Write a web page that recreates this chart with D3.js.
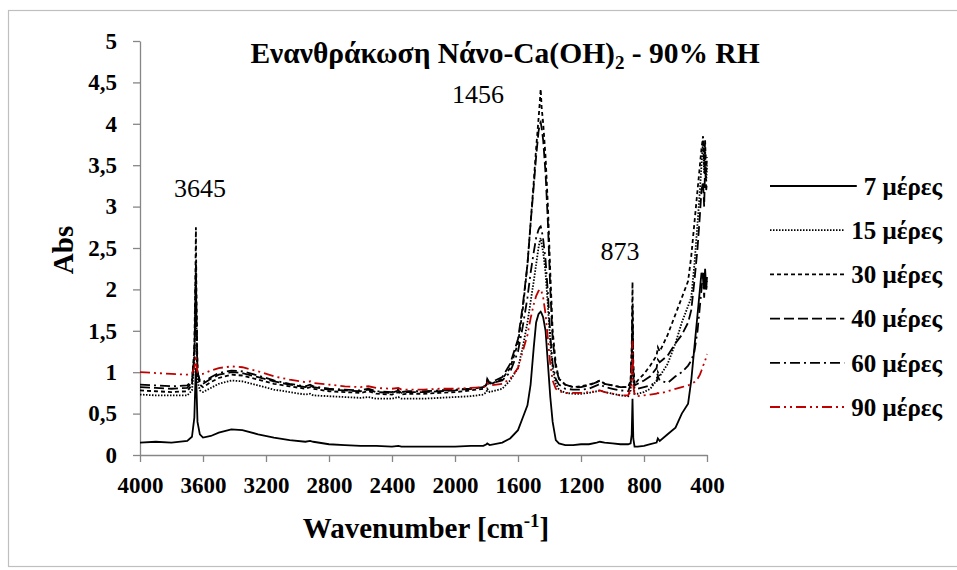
<!DOCTYPE html>
<html>
<head>
<meta charset="utf-8">
<script src="https://cdn.jsdelivr.net/npm/d3@7"></script>
<style>
  body { margin: 0; background: #fff; }
  svg text { font-family: "Liberation Serif", "Times New Roman", serif; fill: #000; }
</style>
</head>
<body>
<div id="chart"></div>
<script>
// Wavenumber grid (cm-1) shared by all spectra
const wavenumbers = [4000, 3900, 3800, 3700, 3670, 3655, 3648, 3645, 3642, 3635, 3620, 3600,
  3550, 3500, 3420, 3350, 3250, 3150, 3050, 2950, 2920, 2900, 2800, 2700,
  2600, 2550, 2500, 2400, 2360, 2340, 2300, 2200, 2100, 2000, 1900, 1820,
  1800, 1795, 1780, 1700, 1650, 1600, 1570, 1540, 1520, 1500, 1485, 1470,
  1462, 1456, 1450, 1440, 1425, 1410, 1395, 1380, 1360, 1340, 1300, 1250,
  1200, 1150, 1100, 1080, 1050, 1000, 950, 900, 885, 878, 873, 868,
  860, 840, 800, 760, 720, 712, 700, 650, 600, 560, 520, 500,
  480, 460, 445, 435, 425, 418, 412, 405, 400];

// Absorbance, one array per series
const abs7 = [0.15, 0.16, 0.15, 0.17, 0.22, 0.45, 0.9, 1.05, 0.85, 0.4, 0.25, 0.21,
  0.23, 0.27, 0.31, 0.3, 0.25, 0.21, 0.18, 0.16, 0.17, 0.16, 0.13, 0.12,
  0.11, 0.11, 0.11, 0.1, 0.11, 0.1, 0.1, 0.1, 0.1, 0.1, 0.11, 0.11,
  0.13, 0.14, 0.12, 0.15, 0.2, 0.3, 0.45, 0.6, 0.85, 1.3, 1.6, 1.7,
  1.72, 1.73, 1.71, 1.66, 1.5, 1.1, 0.7, 0.4, 0.18, 0.14, 0.12, 0.12,
  0.13, 0.13, 0.15, 0.16, 0.15, 0.14, 0.13, 0.13, 0.14, 0.25, 0.68, 0.2,
  0.1, 0.1, 0.11, 0.13, 0.15, 0.2, 0.17, 0.25, 0.33, 0.5, 0.62, 0.9,
  1.3, 1.7, 2.0, 2.2, 2.15, 2.0, 2.25, 2.0, 2.15];
const abs15 = [0.73, 0.72, 0.72, 0.72, 0.78, 1.1, 1.8, 2.3, 1.6, 0.9, 0.78, 0.76,
  0.81, 0.86, 0.9, 0.89, 0.84, 0.79, 0.76, 0.73, 0.74, 0.72, 0.71, 0.7,
  0.69, 0.7, 0.68, 0.68, 0.7, 0.68, 0.68, 0.68, 0.69, 0.7, 0.71, 0.73,
  0.76, 0.8, 0.76, 0.8, 0.9, 1.05, 1.3, 1.6, 1.85, 2.1, 2.3, 2.5,
  2.58, 2.62, 2.55, 2.45, 2.2, 1.8, 1.35, 1.05, 0.86, 0.79, 0.75, 0.74,
  0.74, 0.75, 0.77, 0.78, 0.76, 0.74, 0.72, 0.71, 0.78, 1.1, 1.5, 0.9,
  0.74, 0.74, 0.76, 0.8, 0.9, 1.0, 0.95, 1.1, 1.35, 1.6, 1.8, 1.9,
  2.3, 2.8, 3.2, 3.5, 3.8, 3.4, 3.7, 3.3, 3.5];
const abs30 = [0.78, 0.77, 0.76, 0.77, 0.85, 1.3, 2.2, 2.75, 2.0, 1.0, 0.85, 0.82,
  0.88, 0.93, 0.97, 0.96, 0.91, 0.86, 0.83, 0.8, 0.82, 0.8, 0.77, 0.76,
  0.75, 0.77, 0.74, 0.73, 0.76, 0.73, 0.74, 0.74, 0.75, 0.76, 0.78, 0.8,
  0.85, 0.9, 0.85, 0.92, 1.05, 1.35, 1.75, 2.3, 2.8, 3.3, 3.7, 4.05,
  4.25, 4.42, 4.2, 4.0, 3.6, 3.0, 2.2, 1.5, 1.1, 0.92, 0.85, 0.82,
  0.83, 0.85, 0.88, 0.9, 0.86, 0.84, 0.82, 0.82, 0.9, 1.3, 2.09, 1.1,
  0.85, 0.9, 0.98, 1.08, 1.2, 1.3, 1.25, 1.45, 1.7, 1.9, 2.1, 2.4,
  2.8, 3.2, 3.5, 3.7, 3.85, 3.5, 3.8, 3.4, 3.6];
const abs40 = [0.82, 0.81, 0.8, 0.81, 0.88, 1.2, 1.9, 2.3, 1.7, 1.0, 0.88, 0.86,
  0.92, 0.97, 1.0, 0.99, 0.94, 0.89, 0.85, 0.82, 0.84, 0.82, 0.79, 0.78,
  0.77, 0.79, 0.76, 0.75, 0.78, 0.75, 0.76, 0.76, 0.77, 0.78, 0.8, 0.82,
  0.86, 0.92, 0.87, 0.94, 1.1, 1.4, 1.8, 2.3, 2.8, 3.25, 3.6, 3.9,
  4.0, 4.02, 3.95, 3.8, 3.4, 2.8, 2.0, 1.4, 1.05, 0.92, 0.85, 0.82,
  0.82, 0.84, 0.88, 0.9, 0.86, 0.84, 0.82, 0.82, 0.88, 1.2, 1.8, 1.0,
  0.84, 0.86, 0.9, 0.95, 1.05, 1.15, 1.12, 1.2, 1.35, 1.45, 1.6, 1.75,
  2.1, 2.5, 2.9, 3.2, 3.3, 3.0, 3.5, 3.2, 3.3];
const abs60 = [0.85, 0.84, 0.83, 0.84, 0.9, 1.2, 1.8, 2.2, 1.6, 1.0, 0.9, 0.88,
  0.94, 0.99, 1.02, 1.01, 0.96, 0.9, 0.86, 0.83, 0.85, 0.83, 0.8, 0.79,
  0.78, 0.8, 0.77, 0.76, 0.79, 0.76, 0.77, 0.77, 0.78, 0.79, 0.8, 0.82,
  0.85, 0.9, 0.86, 0.9, 1.0, 1.25, 1.55, 1.9, 2.2, 2.45, 2.62, 2.72,
  2.75, 2.76, 2.72, 2.6, 2.35, 1.95, 1.45, 1.1, 0.92, 0.85, 0.8, 0.79,
  0.79, 0.8, 0.84, 0.86, 0.82, 0.8, 0.78, 0.77, 0.85, 1.1, 1.6, 0.95,
  0.8, 0.8, 0.82, 0.84, 0.88, 0.95, 0.9, 0.87, 0.95, 1.0, 1.08, 1.14,
  1.25, 1.5, 1.8, 2.0, 2.2, 1.9, 2.2, 2.0, 2.1];
const abs90 = [1.0, 0.99, 0.98, 0.97, 0.99, 1.05, 1.15, 1.2, 1.1, 1.0, 0.98, 0.98,
  1.02, 1.05, 1.07, 1.06, 1.01, 0.95, 0.91, 0.88, 0.89, 0.87, 0.85, 0.83,
  0.82, 0.83, 0.81, 0.8, 0.81, 0.79, 0.79, 0.79, 0.8, 0.8, 0.81, 0.82,
  0.84, 0.87, 0.84, 0.86, 0.92, 1.05, 1.25, 1.45, 1.65, 1.82, 1.92, 1.98,
  2.0, 2.0, 1.97, 1.9, 1.7, 1.4, 1.1, 0.9, 0.8, 0.77, 0.75, 0.75,
  0.75, 0.76, 0.77, 0.78, 0.76, 0.74, 0.72, 0.72, 0.8, 1.0, 1.38, 0.85,
  0.72, 0.71, 0.72, 0.73, 0.74, 0.75, 0.74, 0.77, 0.8, 0.82, 0.84, 0.86,
  0.88, 0.92, 0.97, 1.02, 1.08, 1.1, 1.14, 1.18, 1.22];

const seriesNames = ['7 μέρες', '15 μέρες', '30 μέρες', '40 μέρες', '60 μέρες', '90 μέρες'];
const seriesValues = [abs7, abs15, abs30, abs40, abs60, abs90];

const xTicks = [4000, 3600, 3200, 2800, 2400, 2000, 1600, 1200, 800, 400];
const yTicks = [0, 0.5, 1, 1.5, 2, 2.5, 3, 3.5, 4, 4.5, 5];

// Band labels and where they sit (wavenumber, abs)
const peakLabels = ['3645', '1456', '873'];
const peakLabelPos = [[3619, 3.11], [1854, 4.25], [952, 2.35]];

class SpectrumChart {

  constructor(_config) {
    this.config = {
      parentElement: _config.parentElement,
      containerWidth: 957,
      containerHeight: 570,
      margin: { top: 41, right: 250, bottom: 115, left: 140 }
    };
    // Excel-like line styles, same order as the series
    this.dashes = ['none', '1.5,1.5', '4,3', '10,4', '10,4,2,4', '10,4,2,4,2,4'];
    this.colors = ['#000', '#000', '#000', '#000', '#000', '#c00000'];

    this.data = seriesNames.map((name, i) => ({
      name: name,
      values: wavenumbers.map((w, j) => ({ w: w, a: seriesValues[i][j] }))
    }));

    this.initVis();
  }

  initVis() {
    let vis = this;

    vis.width = vis.config.containerWidth - vis.config.margin.left - vis.config.margin.right;
    vis.height = vis.config.containerHeight - vis.config.margin.top - vis.config.margin.bottom;

    // Reversed wavenumber axis
    vis.xScale = d3.scaleLinear()
      .domain([4000, 400])
      .range([0, vis.width]);
    vis.yScale = d3.scaleLinear()
      .domain([0, 5])
      .range([vis.height, 0]);

    vis.xAxis = d3.axisBottom(vis.xScale)
      .tickValues(xTicks)
      .tickFormat(d => d)
      .tickSize(7)
      .tickSizeOuter(0)
      .tickPadding(15);
    vis.yAxis = d3.axisLeft(vis.yScale)
      .tickValues(yTicks)
      .tickFormat(d => String(d).replace('.', ','))
      .tickSize(7)
      .tickSizeOuter(0)
      .tickPadding(16);

    vis.svg = d3.select(vis.config.parentElement).append('svg')
      .attr('width', vis.config.containerWidth)
      .attr('height', vis.config.containerHeight);

    // Chart frame
    vis.svg.append('rect')
      .attr('x', 8.5)
      .attr('y', 10.5)
      .attr('width', 960)
      .attr('height', 556)
      .attr('fill', 'none')
      .attr('stroke', '#bfbfbf')
      .attr('stroke-width', 1.2);

    vis.chart = vis.svg.append('g')
      .attr('transform', `translate(${vis.config.margin.left},${vis.config.margin.top})`);

    vis.line = d3.line()
      .x(d => vis.xScale(d.w))
      .y(d => vis.yScale(d.a));

    vis.renderVis();
  }

  renderVis() {
    let vis = this;

    // Axes first so the spectra sit on top
    vis.xAxisG = vis.chart.append('g')
      .attr('class', 'x-axis')
      .attr('transform', `translate(0,${vis.height})`)
      .call(vis.xAxis);
    vis.yAxisG = vis.chart.append('g')
      .attr('class', 'y-axis')
      .call(vis.yAxis);

    vis.chart.selectAll('.x-axis, .y-axis')
      .attr('font-family', null)
      .attr('font-size', null);
    vis.chart.selectAll('.x-axis, .y-axis').selectAll('path, line')
      .attr('stroke', '#868686')
      .attr('stroke-width', 1.3);
    vis.chart.selectAll('.x-axis, .y-axis').selectAll('text')
      .attr('font-size', 23)
      .attr('font-weight', 'bold');

    vis.chart.selectAll('.spectrum')
      .data(vis.data)
      .join('path')
      .attr('class', 'spectrum')
      .attr('fill', 'none')
      .attr('stroke', (d, i) => vis.colors[i])
      .attr('stroke-width', 1.8)
      .attr('stroke-dasharray', (d, i) => vis.dashes[i])
      .attr('d', d => vis.line(d.values));

    // Peak annotations
    vis.chart.selectAll('.peak-label')
      .data(peakLabels)
      .join('text')
      .attr('class', 'peak-label')
      .attr('x', (d, i) => vis.xScale(peakLabelPos[i][0]))
      .attr('y', (d, i) => vis.yScale(peakLabelPos[i][1]))
      .attr('text-anchor', 'middle')
      .attr('font-size', 26)
      .text(d => d);

    // Title with subscript
    const title = vis.svg.append('text')
      .attr('x', 505)
      .attr('y', 63)
      .attr('text-anchor', 'middle')
      .attr('font-size', 29.5)
      .attr('font-weight', 'bold');
    title.append('tspan').text('Ενανθράκωση Νάνο-Ca(OH)');
    title.append('tspan').attr('font-size', 19).attr('dy', 6).text('2');
    title.append('tspan').attr('dy', -6).text(' - 90% RH');

    // Axis titles
    vis.svg.append('text')
      .attr('transform', 'translate(73,250) rotate(-90)')
      .attr('text-anchor', 'middle')
      .attr('font-size', 29)
      .attr('font-weight', 'bold')
      .text('Abs');

    const xTitle = vis.svg.append('text')
      .attr('x', 426)
      .attr('y', 538)
      .attr('text-anchor', 'middle')
      .attr('font-size', 29)
      .attr('font-weight', 'bold');
    xTitle.append('tspan').text('Wavenumber [cm');
    xTitle.append('tspan').attr('font-size', 19).attr('dy', -11).text('-1');
    xTitle.append('tspan').attr('dy', 11).text(']');

    // Legend: labels end at the same x, the line fills the space before them
    const legend = vis.svg.append('g')
      .attr('transform', 'translate(770,186)');
    const entry = legend.selectAll('.legend-entry')
      .data(vis.data)
      .join('g')
      .attr('class', 'legend-entry')
      .attr('transform', (d, i) => `translate(0,${i * 44.2})`);
    const labels = entry.append('text')
      .attr('x', 172)
      .attr('dy', '0.35em')
      .attr('text-anchor', 'end')
      .attr('font-size', 25)
      .attr('font-weight', 'bold')
      .text(d => d.name);
    entry.insert('line', 'text')
      .attr('x1', 0)
      .attr('x2', function () {
        const len = d3.select(this.parentNode).select('text').node().getComputedTextLength();
        return 172 - len - 7;
      })
      .attr('stroke', (d, i) => vis.colors[i])
      .attr('stroke-width', 1.8)
      .attr('stroke-dasharray', (d, i) => vis.dashes[i]);
  }
}

new SpectrumChart({ parentElement: '#chart' });
</script>
</body>
</html>
